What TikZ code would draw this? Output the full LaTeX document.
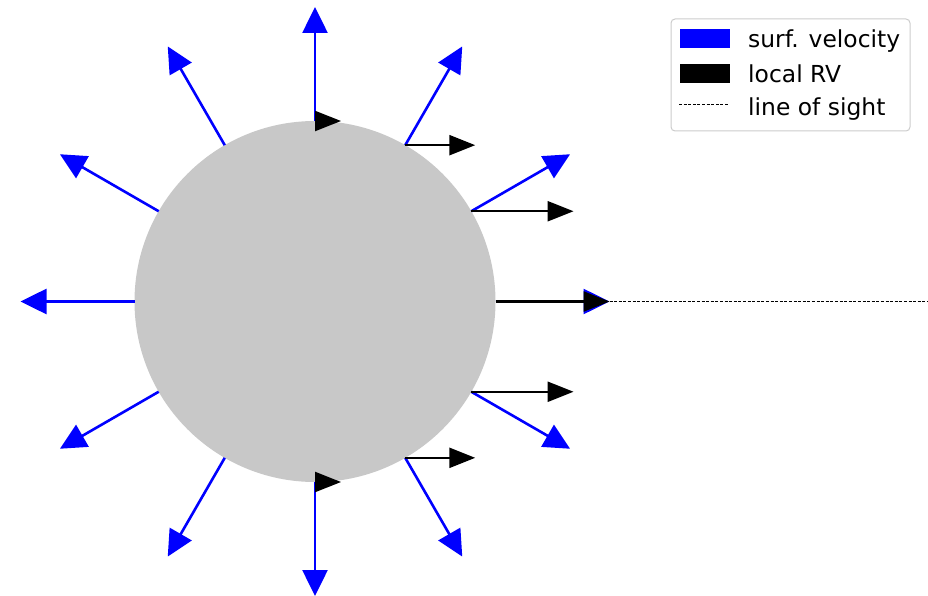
\documentclass[tikz,border=0pt]{standalone}
\usepackage{fontspec}
\setmainfont{DejaVu Sans}
\usetikzlibrary{arrows.meta}
\definecolor{disk}{RGB}{200,200,200}
\definecolor{legframe}{RGB}{204,204,204}
\tikzset{
  bluarr/.style={draw=blue, line width=2.6pt, -{Triangle[length=26pt,width=25pt]}},
  blkarr/.style={draw=black, line width=2.4pt, -{Triangle[length=26pt,width=20pt]}},
  losline/.style={draw=black, line width=1pt, dash pattern=on 3pt off 1.6pt},
  legtext/.style={anchor=base west, inner sep=0pt, font=\fontsize{23.4}{28}\selectfont},
  legpatch/.style={inner sep=0pt, minimum width=50pt, minimum height=19pt},
}
\begin{document}
\begin{tikzpicture}[x=1pt,y=-1pt]
\useasboundingbox (0,0) rectangle (928,596);
\coordinate (c) at (315,301.5);
\fill[disk] (c) circle (180.5);
\foreach \a in {0,30,...,330}{
  \path (c) ++(\a:180.5) coordinate (s\a);
  \path (c) ++(\a:294.5) coordinate (t\a);
  \draw[bluarr] (s\a) -- (t\a);
}
\foreach \a in {270,300,330,0,30,60,90}{
  \path (s\a) ++({88*cos(\a)+26},0) coordinate (k\a);
  \draw[blkarr] (s\a) -- (k\a);
}
\coordinate (losend) at (928,301.5);
\draw[losline] (k0) -- (losend);
% legend
\node[draw=legframe, line width=1pt, rounded corners=4pt, minimum width=239pt, minimum height=112pt, inner sep=0pt, fill=white] (leg) at (790.5,75) {};
\node[legpatch, fill=blue] (p1) at (704.5,39) {};
\node[legpatch, fill=black] (p2) at (704.5,73.5) {};
\coordinate (d1) at (679,105);
\coordinate (d2) at (729,105);
\draw[losline] (d1) -- (d2);
\node[legtext] (l1) at (748,48) {surf. velocity};
\node[legtext] (l2) at (748,83) {local RV};
\node[legtext] (l3) at (748,116) {line of sight};
\end{tikzpicture}
\end{document}
